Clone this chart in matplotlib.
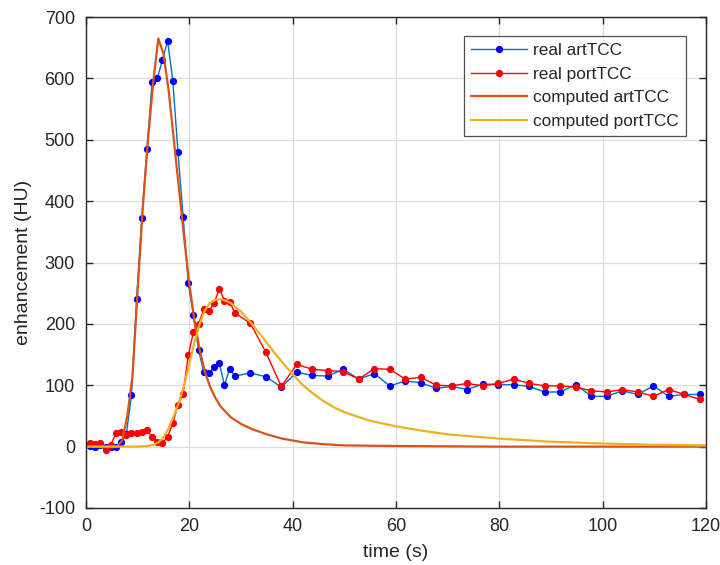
import matplotlib
matplotlib.use("Agg")
import matplotlib.pyplot as plt

plt.rcParams['font.family'] = ['Liberation Sans', 'DejaVu Sans']
plt.rcParams['axes.unicode_minus'] = False

# Sampling times of the measured curves (s)
t_real = [0.8, 1.8, 2.8, 3.8, 4.8, 5.8, 6.8, 7.8, 8.8, 9.8,
          10.8, 11.8, 12.8, 13.8, 14.8, 15.8, 16.8, 17.8, 18.8, 19.8,
          20.8, 21.8, 22.8, 23.8, 24.8, 25.8, 26.8, 27.8, 28.8,
          31.8, 34.8, 37.8, 40.8, 43.8, 46.8, 49.8, 52.8, 55.8, 58.8,
          61.8, 64.8, 67.8, 70.8, 73.8, 76.8, 79.8, 82.8, 85.8, 88.8,
          91.8, 94.8, 97.8, 100.8, 103.8, 106.8, 109.8, 112.8, 115.8, 118.8]

real_art = [1, 0, 2, -1, 0, 0, 7, 20, 84, 240,
            372, 485, 594, 600, 630, 661, 596, 480, 374, 266,
            214, 157, 121, 120, 129, 136, 100, 127, 115,
            120, 114, 97, 121, 116, 115, 126, 110, 119, 99,
            107, 104, 95, 98, 93, 102, 101, 101, 98, 89,
            89, 101, 82, 82, 91, 85, 99, 82, 85, 85]

real_port = [6, 4, 6, -6, 3, 22, 24, 19, 22, 22,
             24, 27, 16, 7, 6, 16, 38, 68, 86, 149,
             187, 200, 224, 221, 234, 257, 238, 236, 218,
             201, 154, 98, 134, 126, 124, 122, 110, 127, 126,
             110, 113, 100, 99, 103, 99, 103, 110, 103, 99,
             99, 97, 91, 89, 93, 89, 82, 93, 85, 77]

# Model curves
t_comp_art = [0, 5, 6, 7, 8, 9, 10, 11, 12, 13, 14, 15, 16, 17, 18, 19,
              20, 21, 22, 23, 24, 25, 26, 28, 30, 32, 35, 38, 42, 46, 50,
              60, 80, 100, 120]
comp_art = [0, 0, 0, 10, 50, 115, 255, 390, 500, 593, 665, 640, 580, 500,
            420, 340, 265, 205, 158, 122, 98, 80, 66, 48, 37, 29, 20, 13,
            7, 4, 2, 1, 0, 0, 0]

t_comp_port = [0, 10, 12, 13, 14, 15, 16, 17, 18, 19, 20, 21, 22, 23, 24,
               25, 26, 27, 28, 30, 32, 34, 36, 38, 40, 42, 44, 46, 48, 50,
               55, 60, 65, 70, 80, 90, 100, 110, 120]
comp_port = [0, 0, 1, 3, 7, 15, 30, 50, 72, 100, 135, 170, 200, 222, 234,
             239, 240, 238, 234, 220, 201, 180, 158, 137, 118, 100, 86, 74,
             64, 56, 42, 33, 26, 20, 13, 8, 5, 3, 2]

x_ticks = [0, 20, 40, 60, 80, 100, 120]
y_ticks = [-100, 0, 100, 200, 300, 400, 500, 600, 700]

fig = plt.figure(figsize=(7.2, 5.65), dpi=100)
ax = fig.add_axes([86 / 720, 1 - 508 / 565, 620 / 720, 491 / 565])

ax.plot(t_real, real_art, '-o', color='#0072BD', lw=1.0, ms=4.2,
        mfc='#0000FF', mec='#0000FF', label='real artTCC')
ax.plot(t_real, real_port, '-o', color='#FF0000', lw=1.0, ms=4.2,
        mfc='#FF0000', mec='#FF0000', label='real portTCC')
ax.plot(t_comp_art, comp_art, '-', color='#D95319', lw=1.6,
        label='computed artTCC')
ax.plot(t_comp_port, comp_port, '-', color='#EDB120', lw=1.6,
        label='computed portTCC')

ax.set_xlim(0, 120)
ax.set_ylim(-100, 700)
ax.set_xticks(x_ticks)
ax.set_yticks(y_ticks)

txt = '#262626'
ax.grid(True, color='#DCDCDC', lw=0.9)
ax.set_axisbelow(True)
for s in ax.spines.values():
    s.set_color(txt)
    s.set_linewidth(1.0)
ax.tick_params(direction='in', top=True, right=True, length=5,
               width=1.0, colors=txt, labelsize=13)
ax.tick_params(axis='y', pad=8)
ax.tick_params(axis='x', pad=7)

ax.set_xlabel('time (s)', fontsize=14, color=txt, labelpad=7)
ax.set_ylabel('enhancement (HU)', fontsize=14, color=txt, labelpad=5)

leg = ax.legend(loc='upper right',
                bbox_to_anchor=((686 - 86) / 620, (508 - 36) / 491),
                borderaxespad=0.0,
                fontsize=12.4, frameon=True, fancybox=False,
                borderpad=0.4, labelspacing=0.5, handlelength=3.25,
                handletextpad=0.4)
leg.get_frame().set_edgecolor(txt)
leg.get_frame().set_linewidth(0.9)
for t in leg.get_texts():
    t.set_color(txt)

fig.savefig('out.png', dpi=100)
